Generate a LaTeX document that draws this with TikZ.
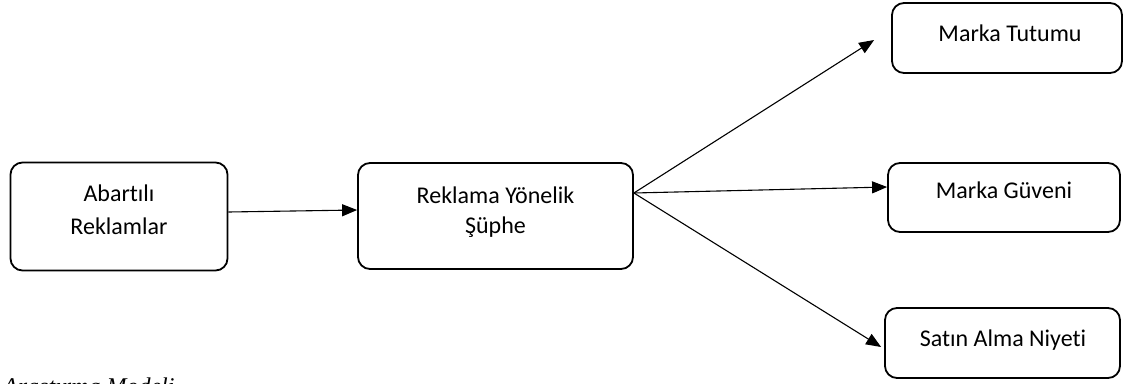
\documentclass[tikz,border=0pt]{standalone}
\usepackage{fontspec}
\setmainfont{Carlito}[Ligatures=NoCommon]
\newfontfamily\capfont{Liberation Serif}
\usetikzlibrary{arrows.meta}
\begin{document}
\begin{tikzpicture}[x=1pt,y=-1pt,
  box/.style={draw=black,line width=1.8pt,rounded corners=12pt,inner sep=0pt,fill=white},
  txt/.style={anchor=base,inner sep=0pt,font=\fontsize{24}{30}\selectfont},
  conn/.style={line width=1.1pt,-{Triangle[length=15pt,width=12pt]}}]
\useasboundingbox (0,0) rectangle (1126,383);
\fill[white] (0,0) rectangle (1126,383);
% boxes
\node[box,minimum width=217pt,minimum height=108pt] (A) at (119,216.5) {};
\node[box,minimum width=275pt,minimum height=106pt] (B) at (495.5,216) {};
\node[box,minimum width=230pt,minimum height=70pt] (C) at (1007,38) {};
\node[box,minimum width=232pt,minimum height=69pt] (D) at (1004,197.5) {};
\node[box,minimum width=235pt,minimum height=70pt] (E) at (1002.5,343) {};
% texts
\node[txt] (A1) at (119,201.7) {Abartılı};
\node[txt] (A2) at (119,234) {Reklamlar};
\node[txt] (B1) at (495.5,203.3) {Reklama Yönelik};
\node[txt] (B2) at (495.5,233.5) {Şüphe};
\node[txt] (C1) at (1010,41.7) {Marka Tutumu};
\node[txt] (D1) at (1004,198.3) {Marka Güveni};
\node[txt] (E1) at (1003,346.7) {Satın Alma Niyeti};
% connectors
\coordinate (F) at ([yshift=23pt]B.east);
\coordinate (tC) at ([xshift=-17pt,yshift=-2pt]C.west);
\coordinate (tE) at ([xshift=-3pt,yshift=-4pt]E.west);
\draw[conn] ([yshift=4.5pt]A.east) -- ([yshift=6pt]B.west);
\draw[conn] (F) -- (tC);
\draw[conn] (F) -- ([yshift=10.5pt]D.west);
\draw[conn] (F) -- (tE);
% caption (cut off by the bottom edge, as in the reference)
\node[anchor=base west,inner sep=0pt,font=\capfont\itshape\fontsize{24}{28}\selectfont] (cap) at (3,394) {Araştırma Modeli};
\end{tikzpicture}
\end{document}
